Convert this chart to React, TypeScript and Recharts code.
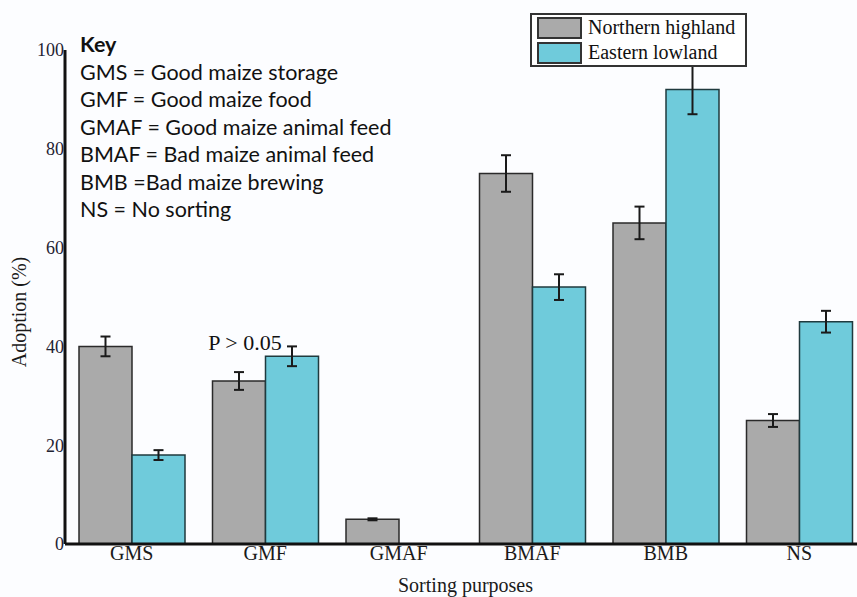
import { Bar, BarChart, ErrorBar, Label, LabelList, XAxis, YAxis } from "recharts";

const categories = ["GMS", "GMF", "GMAF", "BMAF", "BMB", "NS"];
const northernHighland = [40, 33, 5, 75, 65, 25];
const northernHighlandErr = [2, 1.8, 0.2, 3.7, 3.3, 1.3];
const easternLowland = [18, 38, null, 52, 92, 45];
const easternLowlandErr = [1, 2, null, 2.6, 5, 2.2];
const yTicks = [0, 20, 40, 60, 80, 100];
const keyLines = [
  "GMS = Good maize storage",
  "GMF = Good maize food",
  "GMAF = Good maize animal feed",
  "BMAF = Bad maize animal feed",
  "BMB =Bad maize brewing",
  "NS = No sorting",
];
const notes: Record<string, string> = { GMF: "P > 0.05" };

const GREY = "#aaaaaa";
const CYAN = "#6fcbdb";
const SERIF = "'Liberation Serif', 'Times New Roman', serif";

const data = categories.map((cat, i) => ({
  cat,
  nh: northernHighland[i],
  nhErr: northernHighlandErr[i],
  el: easternLowland[i],
  elErr: easternLowlandErr[i],
}));

function NoteLabel(props: any) {
  const { x, y, width, index } = props;
  const note = notes[categories[index]];
  if (!note) return null;
  return (
    <text
      x={x + width / 2 + 6}
      y={y - 31}
      textAnchor="middle"
      fontFamily={SERIF}
      fontSize={22}
      fill="#111"
    >
      {note}
    </text>
  );
}

function LegendBox() {
  const items = [
    { name: "Northern highland", color: GREY },
    { name: "Eastern lowland", color: CYAN },
  ];
  return (
    <div
      style={{
        position: "absolute",
        left: 530,
        top: 13,
        width: 217,
        boxSizing: "border-box",
        border: "2px solid #333",
        background: "#fff",
        padding: "0 0 0 5px",
      }}
    >
      {items.map((it) => (
        <div key={it.name} style={{ display: "flex", alignItems: "center", height: 25 }}>
          <span
            style={{
              width: 45,
              height: 22,
              boxSizing: "border-box",
              border: "2px solid #333",
              background: it.color,
              marginRight: 6,
            }}
          />
          <span style={{ fontFamily: SERIF, fontSize: 20, color: "#111", lineHeight: "25px" }}>{it.name}</span>
        </div>
      ))}
    </div>
  );
}

export default function App() {
  return (
    <div
      style={{
        position: "absolute",
        left: 0,
        top: 0,
        width: 857,
        height: 597,
        overflow: "hidden",
        background: "#fcfdff",
      }}
    >
      <BarChart
        width={866}
        height={597}
        data={data}
        margin={{ top: 50, right: 0, left: 0, bottom: 0 }}
        barGap={0}
        barSize={53}
      >
        <XAxis
          dataKey="cat"
          interval={0}
          height={53}
          tickLine={false}
          tickSize={0}
          tickMargin={2}
          axisLine={{ stroke: "#111", strokeWidth: 3 }}
          tick={{ fill: "#1a1a1a", fontSize: 20, fontFamily: SERIF }}
        >
          <Label
            value="Sorting purposes"
            position="insideBottom"
            offset={5}
            style={{ fill: "#1a1a1a", fontSize: 20, fontFamily: SERIF }}
          />
        </XAxis>
        <YAxis
          width={65}
          domain={[0, 100]}
          ticks={yTicks}
          tickLine={false}
          tickSize={0}
          tickMargin={1}
          axisLine={{ stroke: "#111", strokeWidth: 3 }}
          tick={{ fill: "#1f2333", fontSize: 18, fontFamily: SERIF }}
        >
          <Label
            content={() => (
              <text
                transform="translate(26,312) rotate(-90)"
                textAnchor="middle"
                fontFamily={SERIF}
                fontSize={20}
                fill="#1a1a1a"
              >
                Adoption (%)
              </text>
            )}
          />
        </YAxis>
        <Bar dataKey="nh" fill={GREY} stroke="#2a2a2a" strokeWidth={1.5} isAnimationActive={false}>
          <ErrorBar dataKey="nhErr" width={5} stroke="#1a1a1a" strokeWidth={2} direction="y" />
          <LabelList dataKey="nh" content={NoteLabel} />
        </Bar>
        <Bar dataKey="el" fill={CYAN} stroke="#1f3a3e" strokeWidth={1.5} isAnimationActive={false}>
          <ErrorBar dataKey="elErr" width={5} stroke="#1a1a1a" strokeWidth={2} direction="y" />
        </Bar>
      </BarChart>

      <div
        style={{
          position: "absolute",
          left: 80,
          top: 31,
          fontFamily: "Lato, 'Open Sans', sans-serif",
          fontSize: 21.5,
          lineHeight: "27.5px",
          color: "#111",
        }}
      >
        <div style={{ fontWeight: 700 }}>Key</div>
        {keyLines.map((line) => (
          <div key={line}>{line}</div>
        ))}
      </div>

      <LegendBox />
    </div>
  );
}
